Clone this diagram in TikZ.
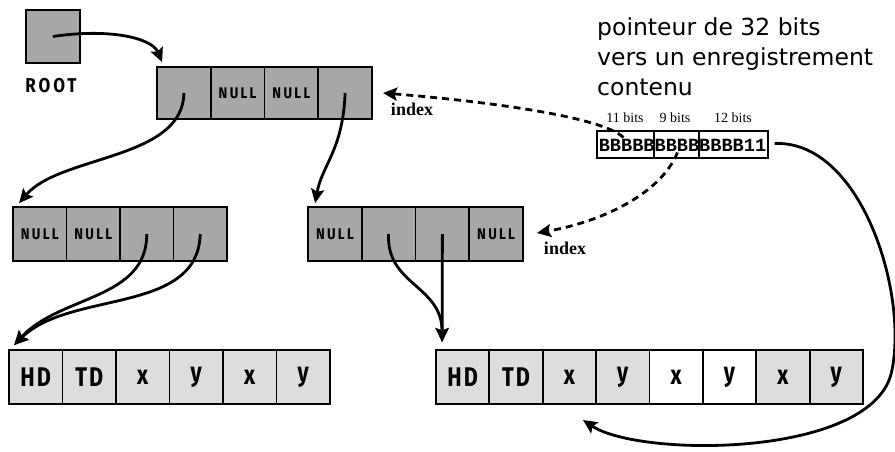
\documentclass[tikz,border=0pt]{standalone}
\usepackage{fontspec}
\usetikzlibrary{arrows.meta,calc}
\newfontfamily\cellfnt[FakeStretch=0.8,LetterSpace=8]{Fira Sans}
\newfontfamily\nullfnt[FakeStretch=0.85,LetterSpace=15]{Fira Sans}
\newfontfamily\ptrfnt{DejaVu Sans}
\newfontfamily\serfnt{Liberation Serif}
\newfontfamily\bitsfnt{Liberation Mono}
\definecolor{darkg}{RGB}{166,168,167}
\definecolor{lightg}{RGB}{220,221,223}
\tikzset{
  cell/.style={draw, line width=1.8pt, minimum width=53.6pt, minimum height=53pt, inner sep=0pt, anchor=center},
  dark/.style={cell, fill=darkg, font=\nullfnt\bfseries\fontsize{15.5}{17}\selectfont},
  light/.style={cell, fill=lightg, font=\cellfnt\bfseries\fontsize{27}{30}\selectfont},
  white/.style={light, fill=white},
  bitcell/.style={draw, line width=1.3pt, minimum height=27pt, inner sep=0pt, fill=white},
  ptr/.style={line width=2.8pt, -{Stealth[length=14pt,width=13pt,inset=2.5pt]}},
  dptr/.style={ptr, dash pattern=on 7pt off 5pt},
  lbl/.style={inner sep=0pt},
}
\begin{document}
\begin{tikzpicture}[x=1pt,y=-1pt]
\useasboundingbox (0,0) rectangle (895,451);
% root
\node[dark, minimum width=54pt] (root) at (53,36.5) {};
\node[lbl, font=\nullfnt\bfseries\fontsize{20}{22}\selectfont] (rootlbl) at (51,86) {ROOT};
% top row
\node[dark, minimum width=53.75pt, minimum height=52pt] (t1) at (183.9,93) {};
\node[dark, minimum width=53.75pt, minimum height=52pt] (t2) at (237.6,93) {NULL};
\node[dark, minimum width=53.75pt, minimum height=52pt] (t3) at (291.4,93) {NULL};
\node[dark, minimum width=53.75pt, minimum height=52pt] (t4) at (345.1,93) {};
% middle left
\node[dark, minimum width=53.5pt, minimum height=54pt] (l1) at (39.75,234) {NULL};
\node[dark, minimum width=53.5pt, minimum height=54pt] (l2) at (93.25,234) {NULL};
\node[dark, minimum width=53.5pt, minimum height=54pt] (l3) at (146.75,234) {};
\node[dark, minimum width=53.5pt, minimum height=54pt] (l4) at (200.25,234) {};
% middle right
\node[dark, minimum width=53.75pt, minimum height=54pt] (r1) at (334.9,234) {NULL};
\node[dark, minimum width=53.75pt, minimum height=54pt] (r2) at (388.6,234) {};
\node[dark, minimum width=53.75pt, minimum height=54pt] (r3) at (442.4,234) {};
\node[dark, minimum width=53.75pt, minimum height=54pt] (r4) at (496.1,234) {NULL};
% bottom left
\foreach \i/\t in {1/HD,2/TD,3/x,4/y,5/x,6/y}{
  \node[light, minimum width=53.5pt, minimum height=54pt] (a\i) at ({9+53.5*(\i-0.5)},377) {\t};
}
% bottom right
\foreach \i/\t/\s in {1/HD/light,2/TD/light,3/x/light,4/y/light,5/x/white,6/y/white,7/x/light,8/y/light}{
  \node[\s, minimum width=53.375pt, minimum height=54pt] (b\i) at ({436+53.375*(\i-0.5)},377) {\t};
}
% pointer text
\node[lbl, anchor=base west, font=\ptrfnt\fontsize{23.5}{30}\selectfont] (p1) at (597,35) {pointeur de 32 bits};
\node[lbl, anchor=base west, font=\ptrfnt\fontsize{23.5}{30}\selectfont] (p2) at (597,65.5) {vers un enregistrement};
\node[lbl, anchor=base west, font=\ptrfnt\fontsize{23.5}{30}\selectfont] (p3) at (597,95) {contenu};
% bits box
\node[bitcell, minimum width=57pt] (c1) at (625.5,144.5) {};
\node[bitcell, minimum width=45pt] (c2) at (676.5,144.5) {};
\node[bitcell, minimum width=69pt] (c3) at (733.5,144.5) {};
\node[lbl, font=\bitsfnt\bfseries\fontsize{18.6}{20}\selectfont] (bits) at (682.5,145) {BBBBBBBBBBBBB11};
\node[lbl, font=\serfnt\fontsize{14}{16}\selectfont] (w1) at (625,118) {11 bits};
\node[lbl, font=\serfnt\fontsize{14}{16}\selectfont] (w2) at (675,118) {9 bits};
\node[lbl, font=\serfnt\fontsize{14}{16}\selectfont] (w3) at (733,118) {12 bits};
% index labels
\node[lbl, font=\serfnt\bfseries\fontsize{18}{20}\selectfont] (ix1) at (412,109) {index};
\node[lbl, font=\serfnt\bfseries\fontsize{18}{20}\selectfont] (ix2) at (565,248) {index};
% coordinates
\coordinate (tipT) at ($(t1.north west)+(6,-4)$);
\coordinate (tipL) at ($(l1.north west)+(7,-3)$);
\coordinate (tipR) at ($(r1.north west)+(8,-3)$);
\coordinate (tipA) at ($(a1.north west)+(6,-4)$);
\coordinate (tipB) at ($(b1.north west)+(7,-7)$);
\coordinate (tipX) at (583,420);
\coordinate (ix1tip) at (383,93);
\coordinate (ix2tip) at (537,233);
\coordinate (s1) at ($(c1.center)+(-2,-7)$);
\coordinate (s2) at ($(c2.center)+(1,8)$);
\coordinate (s3) at ($(c3.east)+(6,-1)$);
% solid pointers
\draw[ptr] (root.center) .. controls (110,28) and (152,38) .. (tipT);
\draw[ptr] (t1.center) .. controls (183,160) and (60,155) .. (tipL);
\draw[ptr] (t4.center) .. controls (343,150) and (322,165) .. (tipR);
\draw[ptr] (l3.center) .. controls (147,300) and (60,295) .. (tipA);
\draw[ptr] (l4.center) .. controls (198,315) and (70,290) .. (tipA);
\draw[ptr] (r2.center) .. controls (386,285) and (442,285) .. (tipB);
\draw[ptr] (r3.center) -- (tipB);
\draw[ptr] (s3) .. controls (860,140) and (908,290) .. (892,370) .. controls (876,458) and (640,458) .. (tipX);
% dashed pointers
\draw[dptr] (s1) .. controls (600,115) and (470,100) .. (ix1tip);
\draw[dptr] (s2) .. controls (660,195) and (600,222) .. (ix2tip);
\end{tikzpicture}
\end{document}
